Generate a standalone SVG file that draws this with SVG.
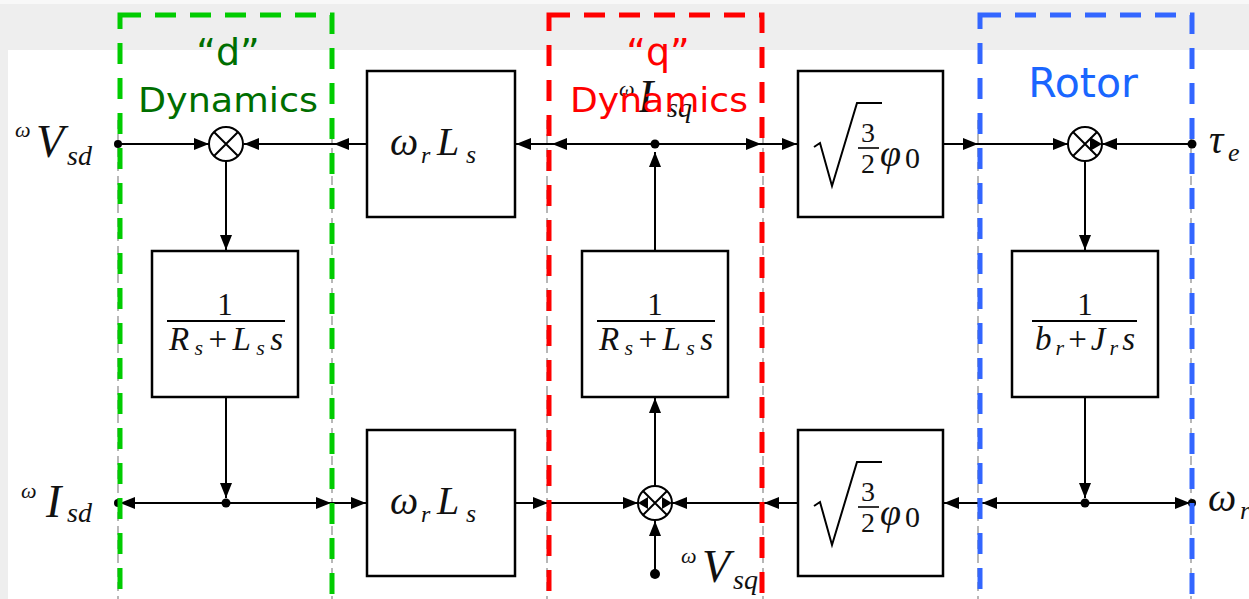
<svg xmlns="http://www.w3.org/2000/svg" width="1249" height="599" viewBox="0 0 1249 599">
<defs>
<marker id="ah" markerUnits="userSpaceOnUse" markerWidth="16" markerHeight="12" refX="15" refY="6" orient="auto">
<path d="M0,0 L15,6 L0,12 z" fill="#000"/>
</marker>
<style>
.w{stroke:#000;stroke-width:2;fill:none;marker-end:url(#ah)}
.box{fill:#fff;stroke:#000;stroke-width:2.5}
.m{font-family:"Liberation Serif",serif;font-style:italic;fill:#111}
.n{font-family:"Liberation Serif",serif;font-style:normal;fill:#111}
.lab{font-family:"DejaVu Sans",sans-serif}
.g{stroke:#888;stroke-width:1.2;stroke-dasharray:9 5;fill:none}
.dash{fill:none;stroke-width:5;stroke-dasharray:21 14}
.dot{fill:#000}
</style>
</defs>
<rect x="0" y="0" width="1249" height="599" fill="#eeeeee"/>
<rect x="0" y="0" width="1249" height="4" fill="#f8f8f8"/>
<rect x="8" y="50" width="1241" height="549" fill="#fff"/>

<g id="dividers">
<line class="g" x1="118" y1="120" x2="118" y2="599"/>
<line class="g" x1="332" y1="120" x2="332" y2="599"/>
<line class="g" x1="547" y1="120" x2="547" y2="599"/>
<line class="g" x1="763" y1="120" x2="763" y2="599"/>
<line class="g" x1="978" y1="120" x2="978" y2="599"/>
<line class="g" x1="1191" y1="120" x2="1191" y2="599"/>
</g>

<g id="connectors">
<line class="w" x1="118" y1="144" x2="209" y2="144"/>
<line class="w" x1="367" y1="144" x2="334" y2="144"/>
<line class="w" x1="334" y1="144" x2="244" y2="144"/>
<line class="w" x1="655" y1="144" x2="552" y2="144"/>
<line class="w" x1="552" y1="144" x2="516" y2="144"/>
<line class="w" x1="655" y1="144" x2="761" y2="144"/>
<line class="w" x1="761" y1="144" x2="797" y2="144"/>
<line class="w" x1="655" y1="251" x2="655" y2="152"/>
<line class="w" x1="943" y1="144" x2="978" y2="144"/>
<line class="w" x1="978" y1="144" x2="1068" y2="144"/>
<line class="w" x1="1192" y1="144" x2="1102" y2="144"/>
<line class="w" x1="1085" y1="161" x2="1085" y2="250"/>
<line class="w" x1="1085" y1="397" x2="1085" y2="498"/>
<line class="w" x1="1085" y1="503" x2="1190" y2="503"/>
<line class="w" x1="1085" y1="503" x2="982" y2="503"/>
<line class="w" x1="982" y1="503" x2="944" y2="503"/>
<line class="w" x1="798" y1="503" x2="764" y2="503"/>
<line class="w" x1="764" y1="503" x2="672" y2="503"/>
<line class="w" x1="515" y1="503" x2="548" y2="503"/>
<line class="w" x1="548" y1="503" x2="638" y2="503"/>
<line class="w" x1="655" y1="574" x2="655" y2="521"/>
<line class="w" x1="655" y1="486" x2="655" y2="398"/>
<line class="w" x1="226" y1="161" x2="226" y2="250"/>
<line class="w" x1="226" y1="397" x2="226" y2="498"/>
<line class="w" x1="226" y1="503" x2="120" y2="503"/>
<line class="w" x1="226" y1="503" x2="331" y2="503"/>
<line class="w" x1="331" y1="503" x2="366" y2="503"/>
<circle class="dot" cx="118" cy="144" r="4"/>
<circle class="dot" cx="655" cy="144" r="4.5"/>
<circle class="dot" cx="1192" cy="144" r="4.5"/>
<circle class="dot" cx="118" cy="503" r="4"/>
<circle class="dot" cx="226" cy="503" r="4.5"/>
<circle class="dot" cx="1085" cy="503" r="4.5"/>
<circle class="dot" cx="1192" cy="503" r="4"/>
<circle class="dot" cx="655" cy="574" r="5"/>
</g>

<g id="sum-d">
<circle cx="226" cy="144" r="17" fill="#fff" stroke="#000" stroke-width="2"/>
<path d="M214,132 L238,156 M238,132 L214,156" stroke="#000" stroke-width="2"/>
</g>
<g id="sum-q">
<circle cx="655" cy="503" r="17" fill="#fff" stroke="#000" stroke-width="2"/>
<path d="M643,491 L667,515 M667,491 L643,515" stroke="#000" stroke-width="2"/>
<path d="M638,503 L648,497 L648,509 z M672,503 L662,497 L662,509 z" fill="#000"/>
</g>
<g id="sum-r">
<circle cx="1085" cy="144" r="17" fill="#fff" stroke="#000" stroke-width="2"/>
<path d="M1073,132 L1097,156 M1097,132 L1073,156" stroke="#000" stroke-width="2"/>
<path d="M1102,144 L1090,137 L1090,151 z" fill="#000"/>
</g>

<g id="wrLs-top">
<rect class="box" x="367" y="71" width="148" height="146"/>
<text class="m" x="390" y="155" font-size="40">ω</text>
<text class="m" x="421" y="163" font-size="24">r</text>
<text class="m" x="437" y="155" font-size="40">L</text>
<text class="m" x="466" y="163" font-size="26">s</text>
</g>
<g id="wrLs-bottom">
<rect class="box" x="367" y="430" width="148" height="146"/>
<text class="m" x="390" y="514" font-size="40">ω</text>
<text class="m" x="421" y="522" font-size="24">r</text>
<text class="m" x="437" y="514" font-size="40">L</text>
<text class="m" x="466" y="522" font-size="26">s</text>
</g>

<g id="tf-d">
<rect class="box" x="152" y="251" width="146" height="146"/>
<text class="n" x="225" y="315" font-size="31" text-anchor="middle">1</text>
<line x1="167" y1="321" x2="285" y2="321" stroke="#000" stroke-width="1.8"/>
<text class="n" x="226" y="350" font-size="33" text-anchor="middle" textLength="114" lengthAdjust="spacing"><tspan class="m">R</tspan><tspan class="m" font-size="22" dy="5">s</tspan><tspan dy="-5">+</tspan><tspan class="m">L</tspan><tspan class="m" font-size="22" dy="5">s</tspan><tspan class="m" dy="-5">s</tspan></text>
</g>
<g id="tf-q">
<rect class="box" x="582" y="251" width="146" height="146"/>
<text class="n" x="655" y="315" font-size="31" text-anchor="middle">1</text>
<line x1="597" y1="321" x2="715" y2="321" stroke="#000" stroke-width="1.8"/>
<text class="n" x="656" y="350" font-size="33" text-anchor="middle" textLength="114" lengthAdjust="spacing"><tspan class="m">R</tspan><tspan class="m" font-size="22" dy="5">s</tspan><tspan dy="-5">+</tspan><tspan class="m">L</tspan><tspan class="m" font-size="22" dy="5">s</tspan><tspan class="m" dy="-5">s</tspan></text>
</g>
<g id="tf-rotor">
<rect class="box" x="1012" y="251" width="146" height="146"/>
<text class="n" x="1085" y="315" font-size="31" text-anchor="middle">1</text>
<line x1="1032" y1="321" x2="1137" y2="321" stroke="#000" stroke-width="1.8"/>
<text class="n" x="1085" y="350" font-size="33" text-anchor="middle" textLength="100" lengthAdjust="spacing"><tspan class="m">b</tspan><tspan class="m" font-size="22" dy="5">r</tspan><tspan dy="-5">+</tspan><tspan class="m">J</tspan><tspan class="m" font-size="22" dy="5">r</tspan><tspan class="m" dy="-5">s</tspan></text>
</g>

<g id="phi-top">
<rect class="box" x="798" y="71" width="145" height="146"/>
<path d="M814,147 L820,143 L832,186 L857,103 L882,103" fill="none" stroke="#000" stroke-width="2"/>
<text class="n" x="868" y="142" font-size="28" text-anchor="middle">3</text>
<line x1="858" y1="148" x2="879" y2="148" stroke="#000" stroke-width="1.6"/>
<text class="n" x="868" y="173" font-size="28" text-anchor="middle">2</text>
<text class="m" x="880" y="166" font-size="38">φ</text>
<text class="n" x="905" y="168" font-size="30">0</text>
</g>
<g id="phi-bottom">
<rect class="box" x="798" y="430" width="145" height="146"/>
<path d="M814,506 L820,502 L832,545 L857,462 L882,462" fill="none" stroke="#000" stroke-width="2"/>
<text class="n" x="868" y="501" font-size="28" text-anchor="middle">3</text>
<line x1="858" y1="507" x2="879" y2="507" stroke="#000" stroke-width="1.6"/>
<text class="n" x="868" y="532" font-size="28" text-anchor="middle">2</text>
<text class="m" x="880" y="525" font-size="38">φ</text>
<text class="n" x="905" y="527" font-size="30">0</text>
</g>

<g id="signals">
<text class="m" x="15" y="137" font-size="22">ω</text>
<text class="m" x="36" y="157" font-size="46">V</text>
<text class="m" x="67" y="165" font-size="28">sd</text>
<text class="m" x="21" y="498" font-size="22">ω</text>
<text class="m" x="46" y="517" font-size="46">I</text>
<text class="m" x="67" y="522" font-size="28">sd</text>
<text class="m" x="619" y="96" font-size="22">ω</text>
<text class="m" x="638" y="112" font-size="46">I</text>
<text class="m" x="667" y="117" font-size="28">sq</text>
<text class="m" x="681" y="563" font-size="22">ω</text>
<text class="m" x="702" y="582" font-size="46">V</text>
<text class="m" x="733" y="589" font-size="28">sq</text>
<text class="m" x="1209" y="153" font-size="40">τ</text>
<text class="m" x="1228" y="161" font-size="26">e</text>
<text class="m" x="1208" y="511" font-size="40">ω</text>
<text class="m" x="1240" y="519" font-size="26">r</text>
</g>

<g id="region-d">
<rect class="dash" x="120" y="15" width="212" height="600" stroke="#00cc00"/>
<text class="lab" x="228" y="65" font-size="38" fill="#006e00" text-anchor="middle">“d”</text>
<text class="lab" x="228" y="112" font-size="34" fill="#006e00" text-anchor="middle" textLength="180" lengthAdjust="spacingAndGlyphs">Dynamics</text>
</g>
<g id="region-q">
<rect class="dash" x="549" y="15" width="213" height="600" stroke="#ff0000"/>
<text class="lab" x="658" y="65" font-size="38" fill="#ff0000" text-anchor="middle">“q”</text>
<text class="lab" x="659" y="112" font-size="34" fill="#ff0000" text-anchor="middle" textLength="178" lengthAdjust="spacingAndGlyphs">Dynamics</text>
</g>
<g id="region-rotor">
<rect class="dash" x="980" y="15" width="212" height="600" stroke="#3366ff"/>
<text class="lab" x="1083" y="97" font-size="41" fill="#1a66ff" text-anchor="middle">Rotor</text>
</g>
</svg>
